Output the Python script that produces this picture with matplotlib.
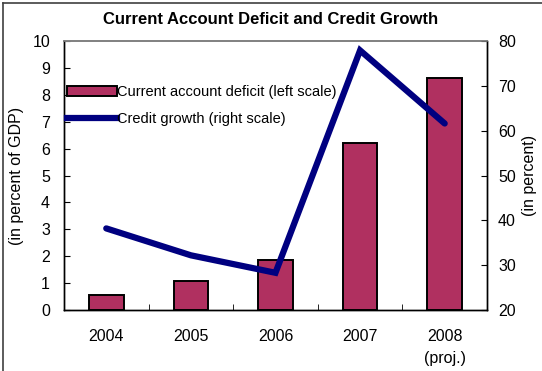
import matplotlib.pyplot as plt
from matplotlib.lines import Line2D

plt.rcParams['font.family'] = ['Liberation Sans', 'DejaVu Sans']

years = ['2004', '2005', '2006', '2007', '2008\n(proj.)']
ca_deficit = [0.57, 1.07, 1.85, 6.22, 8.62]
credit_growth = [38.2, 32.2, 28.3, 77.9, 61.6]

BAR_COLOR = '#B03060'
LINE_COLOR = '#000080'

fig = plt.figure(figsize=(5.42, 3.71), dpi=100)
ax = fig.add_axes([0.118, 0.1644, 0.7805, 0.7251])
x = list(range(len(years)))

ax.bar(x, ca_deficit, width=0.41, color=BAR_COLOR, edgecolor='black',
       linewidth=1.4, label='Current account deficit (left scale)')
ax.set_xlim(-0.5, len(years) - 0.5)
ax.set_ylim(0, 10)
ax.set_yticks(range(0, 11))
ax.set_ylabel('(in percent of GDP)', fontsize=11.5, labelpad=6)

# category labels centred, tick marks only between categories
ax.set_xticks(x)
ax.set_xticklabels(years, fontsize=11.5, linespacing=1.55)
ax.tick_params(axis='x', which='major', length=0, pad=14)
ax.set_xticks([i + 0.5 for i in x[:-1]], minor=True)
ax.tick_params(axis='x', which='minor', direction='in', length=4)
ax.tick_params(axis='y', direction='in', length=4, labelsize=11.5, pad=10)

ax2 = ax.twinx()
ax2.plot(x, credit_growth, color=LINE_COLOR, linewidth=4.5,
         solid_capstyle='round', solid_joinstyle='miter', zorder=3)
ax2.set_ylim(20, 80)
ax2.set_yticks(range(20, 81, 10))
ax2.tick_params(axis='y', direction='in', length=4, labelsize=11.5, pad=8)
ax2.set_ylabel('(in percent)', fontsize=11.5, labelpad=4)

for a in (ax, ax2):
    a.spines['top'].set_color('#808080')
    for s in ('left', 'right', 'bottom'):
        a.spines[s].set_linewidth(1.0)
    a.spines['top'].set_linewidth(1.2)

handles = [
    plt.Rectangle((0, 0), 1, 1, facecolor=BAR_COLOR, edgecolor='black',
                  linewidth=1.4),
    Line2D([], [], color=LINE_COLOR, linewidth=4.5),
]
labels = ['Current account deficit (left scale)', 'Credit growth (right scale)']
ax2.legend(handles, labels, loc='upper left', bbox_to_anchor=(-0.01, 0.862),
           frameon=False, fontsize=10.5, handlelength=3.4, handletextpad=0.05,
           borderaxespad=0.1, labelspacing=0.85)

fig.suptitle('Current Account Deficit and Credit Growth', fontsize=12,
             fontweight='bold', y=0.968)

# outer frame lines along the top and left edges
fig.add_artist(Line2D([0.005, 1.0], [0.992, 0.992], color='#404040',
                      linewidth=1.2, transform=fig.transFigure))
fig.add_artist(Line2D([0.005, 0.005], [0.0, 0.992], color='#404040',
                      linewidth=1.2, transform=fig.transFigure))

fig.savefig('out.png', dpi=100)
